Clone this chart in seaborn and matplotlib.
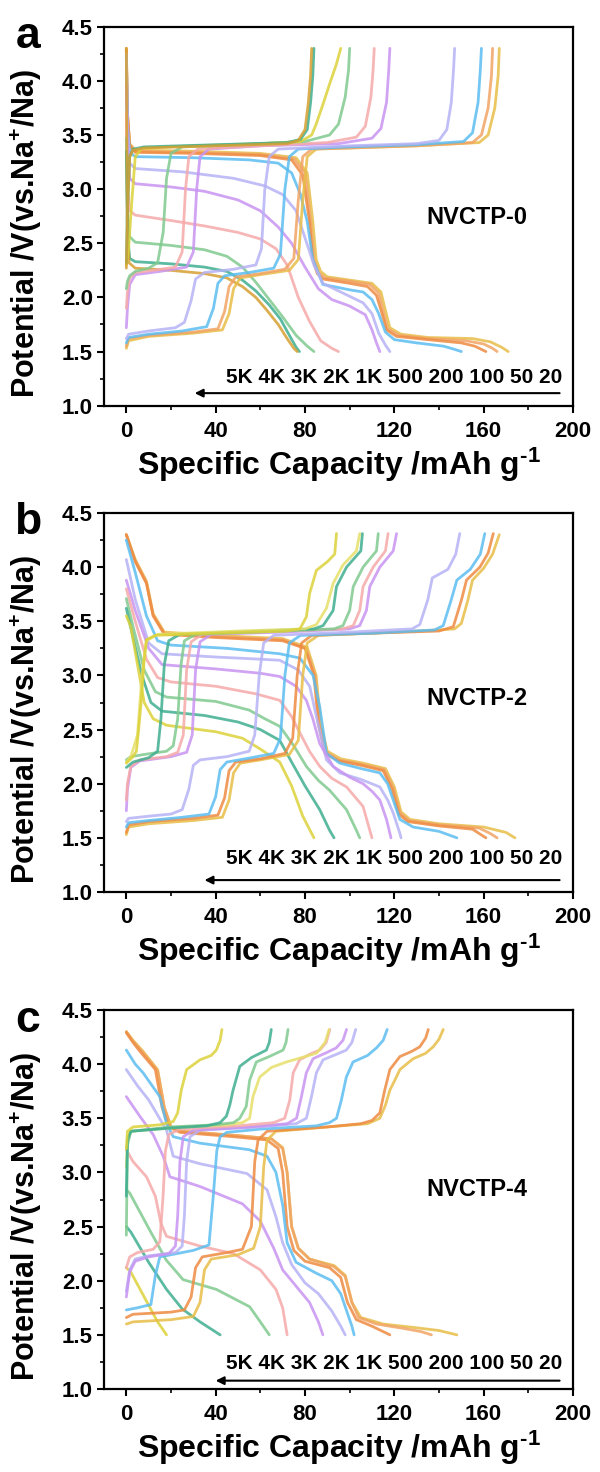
import matplotlib
matplotlib.use("Agg")
import matplotlib.pyplot as plt
import seaborn as sns
import pandas as pd
from matplotlib.ticker import MultipleLocator

# ---------------- data ----------------
RATES = ["20", "50", "100", "200", "500", "1K", "2K", "3K", "4K", "5K"]
RATE_TEXT = "5K 4K 3K 2K 1K 500 200 100 50 20"
SAMPLES = ["NVCTP-0", "NVCTP-2", "NVCTP-4"]
PANEL_LETTERS = ["a", "b", "c"]
X_TICKS = [0, 40, 80, 120, 160, 200]
Y_TICKS = [1.0, 1.5, 2.0, 2.5, 3.0, 3.5, 4.0, 4.5]

# Panel a (NVCTP-0) charge curves
A_CHG_CAP = [
    [0, 1, 10, 30, 43, 46, 48, 51, 60, 73, 77, 79, 81, 85, 100, 130, 158, 162, 165, 166.5, 167],
    [0, 1, 10, 30, 41, 44, 46, 49, 60, 71, 75, 77, 79, 83, 100, 130, 155, 159, 162, 163.5, 164],
    [0, 1, 10, 25, 36, 39, 41, 44, 55, 66, 69, 71, 73, 77, 100, 130, 151, 155, 157.5, 158.5, 159],
    [0, 1, 10, 22, 26, 29, 31, 35, 48, 58, 60.5, 62, 64, 68, 100, 130, 140, 143.5, 145.5, 146.5, 147],
    [0, 0.5, 1.5, 4, 15, 27, 30, 31.5, 33, 37, 60, 95, 110, 114, 116.5, 117.5, 118],
    [0, 0.5, 1.5, 4, 12, 22, 25, 26.5, 28, 32, 60, 90, 103, 107, 109.5, 110.5, 111],
    [0, 0.5, 1.5, 4, 10, 14, 16.5, 18, 20, 25, 50, 80, 91, 95, 98, 99.5, 100],
    [0, 1, 2.5, 4, 7, 30, 60, 78, 83, 85, 88, 91, 94, 96],
    [0, 0.5, 1.5, 3, 8, 40, 72, 78, 81, 82.5, 83.5, 84],
    [0, 0.5, 1.5, 3, 8, 40, 72, 77, 80, 81.5, 82.5, 83],
]
A_CHG_V = [
    [1.53, 1.60, 1.64, 1.67, 1.70, 1.85, 2.08, 2.18, 2.21, 2.25, 2.35, 2.9, 3.3, 3.37, 3.38, 3.40, 3.43, 3.5, 3.75, 4.05, 4.3],
    [1.55, 1.62, 1.65, 1.68, 1.71, 1.87, 2.10, 2.19, 2.22, 2.26, 2.36, 2.9, 3.3, 3.37, 3.38, 3.40, 3.43, 3.5, 3.75, 4.05, 4.3],
    [1.58, 1.63, 1.66, 1.69, 1.73, 1.90, 2.13, 2.20, 2.23, 2.27, 2.40, 3.0, 3.3, 3.37, 3.39, 3.41, 3.44, 3.52, 3.8, 4.1, 4.3],
    [1.62, 1.66, 1.69, 1.72, 1.77, 1.97, 2.17, 2.23, 2.26, 2.30, 2.45, 3.0, 3.3, 3.37, 3.40, 3.42, 3.45, 3.55, 3.8, 4.1, 4.3],
    [1.72, 1.9, 2.12, 2.21, 2.24, 2.28, 2.42, 3.0, 3.3, 3.37, 3.40, 3.42, 3.47, 3.56, 3.8, 4.1, 4.3],
    [1.9, 2.05, 2.18, 2.23, 2.25, 2.28, 2.42, 3.0, 3.3, 3.37, 3.40, 3.43, 3.48, 3.58, 3.85, 4.1, 4.3],
    [2.08, 2.15, 2.2, 2.24, 2.27, 2.32, 2.6, 3.1, 3.33, 3.39, 3.41, 3.44, 3.5, 3.6, 3.85, 4.1, 4.3],
    [2.3, 2.45, 2.9, 3.3, 3.38, 3.40, 3.42, 3.44, 3.5, 3.6, 3.78, 3.97, 4.15, 4.3],
    [2.32, 2.8, 3.3, 3.37, 3.39, 3.41, 3.43, 3.46, 3.55, 3.8, 4.05, 4.3],
    [2.27, 2.8, 3.3, 3.36, 3.38, 3.40, 3.42, 3.45, 3.55, 3.8, 4.05, 4.3],
]
# Panel a discharge curves
A_DIS_CAP = [
    [0, 0.5, 1.5, 4, 30, 60, 76, 81, 83.5, 85, 87, 90, 100, 110, 114, 116, 118, 123, 135, 155, 163, 168, 171],
    [0, 0.5, 1.5, 4, 30, 60, 75, 80, 82.5, 84, 86, 89, 100, 109, 113, 115, 117, 122, 135, 152, 160, 164, 166],
    [0, 0.5, 1.5, 4, 30, 60, 74, 79, 82, 83.5, 85.5, 88, 100, 108, 112, 114.5, 116.5, 121, 135, 150, 156, 159, 161],
    [0, 0.5, 1.5, 4, 30, 55, 68, 74, 78, 81, 83.5, 88, 100, 106, 110, 113, 116, 120, 130, 142, 147, 150],
    [0, 0.5, 1.5, 4, 25, 48, 62, 70, 76, 80, 84, 88, 98, 106, 110, 113, 116, 118],
    [0, 0.5, 1.5, 4, 20, 35, 50, 60, 68, 74, 80, 86, 92, 100, 107, 110, 112, 113.5],
    [0, 0.5, 1.5, 4, 20, 35, 50, 60, 67, 72, 77, 82, 87, 92, 95],
    [0, 0.5, 1.5, 4, 20, 35, 45, 52, 58, 64, 70, 76, 81, 84],
    [0, 0.5, 1.5, 4, 20, 35, 45, 52, 58, 64, 69, 73, 76, 77.5],
    [0, 0.4, 1.2, 4, 20, 35, 45, 52, 58, 63, 68, 72, 75, 76.5],
]
A_DIS_V = [
    [4.3, 3.7, 3.42, 3.36, 3.35, 3.33, 3.29, 3.15, 2.7, 2.35, 2.24, 2.19, 2.16, 2.13, 2.05, 1.88, 1.72, 1.66, 1.63, 1.62, 1.59, 1.54, 1.5],
    [4.3, 3.7, 3.41, 3.35, 3.34, 3.32, 3.28, 3.15, 2.7, 2.35, 2.23, 2.18, 2.15, 2.12, 2.04, 1.87, 1.71, 1.65, 1.62, 1.60, 1.57, 1.53, 1.5],
    [4.28, 3.7, 3.40, 3.34, 3.33, 3.31, 3.27, 3.13, 2.7, 2.35, 2.22, 2.17, 2.13, 2.10, 2.02, 1.85, 1.70, 1.64, 1.61, 1.58, 1.55, 1.52, 1.5],
    [4.22, 3.6, 3.34, 3.30, 3.29, 3.27, 3.24, 3.15, 2.95, 2.7, 2.35, 2.12, 2.07, 2.05, 1.98, 1.85, 1.68, 1.61, 1.58, 1.55, 1.52, 1.5],
    [4.25, 3.6, 3.24, 3.19, 3.16, 3.10, 3.03, 2.95, 2.8, 2.55, 2.3, 2.13, 2.03, 1.95, 1.85, 1.67, 1.56, 1.5],
    [3.95, 3.4, 3.10, 3.05, 3.02, 2.98, 2.90, 2.80, 2.65, 2.5, 2.28, 2.08, 1.98, 1.92, 1.84, 1.70, 1.58, 1.5],
    [3.7, 3.0, 2.80, 2.76, 2.71, 2.66, 2.60, 2.54, 2.45, 2.3, 2.0, 1.78, 1.6, 1.53, 1.5],
    [3.47, 2.8, 2.56, 2.51, 2.48, 2.44, 2.38, 2.28, 2.14, 1.98, 1.82, 1.65, 1.55, 1.5],
    [3.35, 2.6, 2.36, 2.33, 2.31, 2.28, 2.24, 2.16, 2.06, 1.93, 1.80, 1.65, 1.54, 1.5],
    [4.3, 2.7, 2.32, 2.27, 2.25, 2.22, 2.18, 2.10, 2.00, 1.88, 1.75, 1.62, 1.53, 1.5],
]

# Panel b (NVCTP-2) charge curves
B_CHG_CAP = [
    [0, 1, 10, 30, 43, 46, 48, 51, 60, 73, 77, 79, 81, 86, 110, 140, 147, 150, 153, 155, 160, 164, 167],
    [0, 1, 10, 30, 41, 44, 46, 49, 60, 71, 74.5, 76.5, 78.5, 83, 110, 140, 146.4, 150.1, 152.3, 158.3, 162, 164.3],
    [0, 1, 10, 25, 37, 40, 42, 45, 56, 66, 69, 71, 73, 78, 110, 138, 141.9, 145.5, 148, 154, 158.5, 160.5],
    [0, 1, 10, 20, 25, 28, 30, 33, 45, 55, 57.5, 59.5, 61.5, 66, 100, 128, 131.4, 135, 137, 144, 147.5, 149.3],
    [0, 0.5, 2, 6, 20, 27, 29.5, 31, 33, 38, 70, 100, 104.5, 107.5, 109, 113.5, 119.5, 121],
    [0, 0.5, 2, 6, 18, 23, 25.5, 27, 29, 34, 70, 97, 101.6, 104.5, 106, 110.5, 116, 117.2],
    [0, 2, 8, 18, 21, 23, 24.5, 26, 31, 70, 93, 97, 100, 101.6, 106, 112, 112.8],
    [0, 3, 10, 14, 15.5, 17, 19, 24, 60, 84, 88.1, 92.6, 94.1, 98.6, 105, 105.7],
    [0, 2, 5, 7, 9, 14, 50, 80, 85.1, 89.6, 92.6, 97, 103, 104.5],
    [0, 3, 4.5, 5.5, 6.7, 8, 9, 13, 40, 72, 77.7, 80.6, 82.1, 85.1, 90, 93.3, 94.1],
]
B_CHG_V = [
    [1.53, 1.60, 1.63, 1.66, 1.69, 1.85, 2.10, 2.19, 2.22, 2.27, 2.40, 3.0, 3.3, 3.37, 3.39, 3.42, 3.43, 3.48, 3.7, 3.88, 3.99, 4.12, 4.3],
    [1.55, 1.62, 1.65, 1.68, 1.71, 1.87, 2.12, 2.20, 2.23, 2.28, 2.42, 3.0, 3.3, 3.37, 3.39, 3.41, 3.45, 3.7, 3.88, 4.0, 4.13, 4.31],
    [1.60, 1.64, 1.66, 1.69, 1.72, 1.88, 2.13, 2.20, 2.24, 2.28, 2.42, 3.0, 3.3, 3.37, 3.39, 3.42, 3.46, 3.7, 3.88, 3.98, 4.12, 4.31],
    [1.65, 1.68, 1.70, 1.72, 1.76, 1.95, 2.17, 2.22, 2.25, 2.30, 2.45, 3.0, 3.3, 3.37, 3.40, 3.43, 3.47, 3.7, 3.9, 3.98, 4.12, 4.31],
    [1.75, 1.95, 2.15, 2.21, 2.25, 2.29, 2.45, 3.05, 3.31, 3.38, 3.40, 3.43, 3.46, 3.6, 3.82, 4.0, 4.15, 4.31],
    [1.85, 2.0, 2.16, 2.22, 2.25, 2.29, 2.45, 3.05, 3.31, 3.38, 3.41, 3.43, 3.46, 3.6, 3.82, 4.0, 4.15, 4.31],
    [2.22, 2.25, 2.27, 2.30, 2.35, 2.6, 3.1, 3.32, 3.38, 3.41, 3.43, 3.46, 3.6, 3.82, 4.0, 4.15, 4.31],
    [2.15, 2.2, 2.24, 2.3, 2.6, 3.1, 3.32, 3.38, 3.41, 3.43, 3.46, 3.6, 3.82, 4.0, 4.15, 4.31],
    [2.2, 2.25, 2.45, 3.0, 3.32, 3.38, 3.41, 3.43, 3.47, 3.62, 3.85, 4.02, 4.15, 4.31],
    [2.19, 2.25, 2.30, 2.5, 2.77, 3.15, 3.33, 3.37, 3.39, 3.41, 3.43, 3.54, 3.76, 3.97, 4.05, 4.12, 4.31],
]
# Panel b discharge curves
B_DIS_CAP = [
    [0, 4, 9, 12, 17, 40, 70, 81, 85, 87, 90, 96, 106, 116, 120, 123, 127, 140, 160, 170, 174],
    [0, 4, 9, 12, 17, 40, 70, 80.5, 84.5, 86.5, 89.5, 95, 105, 115.5, 119.5, 122.5, 126.5, 140, 158, 163, 166],
    [0, 4, 9, 12, 17, 40, 70, 80, 84, 86, 89, 95, 105, 115, 119, 122, 126, 140, 155, 161],
    [0, 4, 9, 14, 20, 45, 68.7, 77.7, 83.6, 86.6, 89.6, 95.6, 105, 113.5, 117, 119.5, 122.5, 128.4, 140, 148],
    [0, 4, 10, 16, 40, 60, 68.7, 77, 82.1, 85.1, 89.6, 95.6, 105, 113.5, 117, 119.5, 122.5, 123],
    [0, 4, 10, 16, 40, 60, 68.7, 76, 80.6, 83.5, 86.6, 92.6, 100, 106, 110, 113.5, 116.5, 118.5],
    [0, 4, 9, 14, 20, 40, 58, 68.7, 74, 77.7, 82, 86.6, 92, 98.6, 106, 109, 110],
    [0, 3, 8, 13, 18, 40, 55, 62, 68.7, 75, 80.6, 86, 91, 98.6, 103, 104.5],
    [0, 3, 7, 11, 16, 35, 50, 60, 68.7, 74, 80, 86.6, 91, 93],
    [0, 2, 5, 8, 12, 18, 40, 52, 60, 68.7, 74, 79, 84],
]
B_DIS_V = [
    [4.3, 4.07, 3.87, 3.57, 3.40, 3.37, 3.34, 3.26, 3.0, 2.55, 2.30, 2.23, 2.19, 2.14, 1.97, 1.74, 1.67, 1.63, 1.60, 1.55, 1.5],
    [4.3, 4.06, 3.86, 3.56, 3.39, 3.36, 3.33, 3.25, 3.0, 2.55, 2.29, 2.22, 2.18, 2.13, 1.96, 1.73, 1.66, 1.62, 1.59, 1.54, 1.5],
    [4.3, 4.05, 3.85, 3.55, 3.38, 3.35, 3.32, 3.25, 3.0, 2.55, 2.28, 2.21, 2.17, 2.12, 1.95, 1.72, 1.65, 1.61, 1.58, 1.5],
    [4.25, 3.95, 3.55, 3.32, 3.28, 3.25, 3.20, 3.16, 3.0, 2.71, 2.28, 2.19, 2.14, 2.10, 2.0, 1.85, 1.67, 1.60, 1.56, 1.5],
    [4.07, 3.7, 3.3, 3.2, 3.17, 3.15, 3.14, 3.05, 2.9, 2.62, 2.22, 2.10, 2.04, 1.97, 1.85, 1.73, 1.54, 1.5],
    [3.88, 3.6, 3.25, 3.1, 3.06, 3.02, 2.99, 2.9, 2.77, 2.6, 2.37, 2.16, 2.06, 2.0, 1.93, 1.85, 1.67, 1.5],
    [3.8, 3.5, 3.15, 2.98, 2.94, 2.90, 2.83, 2.77, 2.62, 2.47, 2.30, 2.16, 2.05, 1.97, 1.79, 1.57, 1.5],
    [3.71, 3.45, 3.05, 2.85, 2.80, 2.76, 2.68, 2.60, 2.53, 2.35, 2.16, 2.03, 1.94, 1.76, 1.57, 1.5],
    [3.62, 3.35, 3.0, 2.75, 2.67, 2.63, 2.57, 2.50, 2.40, 2.2, 1.98, 1.76, 1.57, 1.5],
    [3.55, 3.45, 3.1, 2.75, 2.6, 2.54, 2.48, 2.42, 2.32, 2.2, 1.98, 1.7, 1.5],
]

# Panel c (NVCTP-4) charge curves
C_CHG_CAP = [
    [0, 3, 20, 30, 33, 35, 38, 50, 57, 60, 61.5, 63, 67, 90, 108, 113.5, 116, 118, 120.2, 122.5, 128.4, 134, 137.4, 140, 141.9],
    [0, 3, 20, 26, 29, 31, 34, 45, 52, 56, 57.5, 59, 63, 90, 105, 110, 113.5, 115.7, 118, 122.5, 128, 131.4, 134, 135.2],
    [0, 5, 11, 13, 15, 30, 37, 39, 40.5, 42, 45, 60, 85, 91, 94.1, 96.3, 98.5, 101.5, 108, 112, 115, 116.8],
    [0, 1.5, 4, 10, 22, 25, 26, 27, 28.5, 33, 60, 76, 80.6, 82.9, 85.1, 88.1, 94, 98.5, 101, 102.7],
    [0, 1.5, 4, 10, 19, 22, 23, 24, 25.5, 30, 55, 72, 76.2, 78.4, 80.6, 83.6, 90, 94, 97, 98.6],
    [0, 1.5, 5, 12, 15, 16.5, 17.5, 19, 24, 50, 66, 70.9, 73.2, 74.7, 77.6, 83, 86.6, 89.5, 91.1],
    [0, 0.6, 2, 25, 45, 52, 55.2, 56.7, 59.7, 65, 71.7, 80, 85.1, 89, 90.8],
    [0, 0.5, 2, 20, 40, 48, 50.8, 53.7, 55.2, 58.2, 64, 70.2, 71.5, 72.4],
    [0, 0.5, 2, 20, 36, 42, 44.8, 46.3, 47.8, 50.8, 56, 62.7, 64, 64.9],
    [0, 0.5, 3, 15, 21, 23, 24.6, 27, 33, 38, 40.3, 42, 42.8],
]
C_CHG_V = [
    [1.60, 1.62, 1.64, 1.67, 1.80, 2.10, 2.20, 2.24, 2.30, 2.50, 3.05, 3.30, 3.38, 3.42, 3.45, 3.50, 3.62, 3.76, 3.85, 3.95, 4.05, 4.10, 4.16, 4.23, 4.32],
    [1.66, 1.69, 1.71, 1.73, 1.85, 2.12, 2.22, 2.26, 2.29, 2.50, 3.10, 3.30, 3.38, 3.42, 3.45, 3.48, 3.55, 3.76, 3.95, 4.07, 4.12, 4.16, 4.24, 4.32],
    [1.73, 1.75, 1.78, 2.05, 2.22, 2.28, 2.33, 2.80, 3.20, 3.33, 3.37, 3.40, 3.43, 3.46, 3.50, 3.67, 3.88, 4.02, 4.08, 4.15, 4.22, 4.32],
    [1.90, 2.10, 2.20, 2.23, 2.26, 2.32, 2.60, 3.10, 3.33, 3.39, 3.42, 3.45, 3.50, 3.70, 3.92, 4.04, 4.09, 4.13, 4.20, 4.32],
    [1.85, 2.08, 2.18, 2.22, 2.25, 2.32, 2.60, 3.10, 3.33, 3.39, 3.42, 3.45, 3.50, 3.70, 3.92, 4.05, 4.11, 4.15, 4.22, 4.32],
    [2.12, 2.22, 2.26, 2.29, 2.36, 2.80, 3.20, 3.35, 3.40, 3.43, 3.46, 3.50, 3.67, 3.92, 4.04, 4.10, 4.13, 4.20, 4.32],
    [3.05, 3.30, 3.38, 3.42, 3.44, 3.46, 3.50, 3.70, 3.88, 3.97, 4.02, 4.07, 4.10, 4.20, 4.32],
    [2.42, 3.25, 3.38, 3.42, 3.44, 3.46, 3.50, 3.61, 3.85, 4.02, 4.07, 4.13, 4.20, 4.32],
    [2.78, 3.30, 3.38, 3.41, 3.43, 3.46, 3.52, 3.62, 3.76, 3.98, 4.06, 4.13, 4.20, 4.32],
    [3.22, 3.38, 3.42, 3.44, 3.47, 3.55, 3.76, 3.95, 4.04, 4.08, 4.13, 4.22, 4.32],
]
# Panel c discharge curves
C_DIS_CAP = [
    [0, 3, 7, 14, 17, 20, 25, 50, 65, 70, 72, 74, 77, 82, 93, 98, 101, 105, 115, 128, 140, 148],
    [0, 3, 7, 14, 17, 20, 25, 50, 65, 70, 72, 74, 77, 82, 93, 98, 101, 104, 112, 124, 132, 136.6],
    [0, 3, 6, 13, 16, 19, 24, 48, 63, 68, 70, 72, 75, 80, 91, 96, 99, 103, 110, 118],
    [0, 4, 7.5, 15, 18, 21, 33, 55, 63, 67, 70, 72, 76, 85, 92, 96, 99, 101, 102],
    [0, 5, 10, 18, 21, 33, 54, 63, 67, 70, 74, 80, 86, 92, 96, 98],
    [0, 6, 12, 16.5, 19.5, 33, 52, 60, 66, 70, 76, 82, 86, 88],
    [0, 3, 9, 13, 15.5, 18, 33, 48, 60, 67, 70, 72],
    [0, 1.5, 10.4, 17.9, 25.4, 40.3, 55.2, 60, 64],
    [0, 2, 10, 18, 25, 33, 42],
    [0, 2, 8, 14, 18],
]
C_DIS_V = [
    [4.30, 4.22, 4.13, 3.95, 3.60, 3.42, 3.38, 3.34, 3.31, 3.23, 3.0, 2.5, 2.3, 2.2, 2.14, 2.05, 1.8, 1.66, 1.60, 1.57, 1.54, 1.5],
    [4.30, 4.21, 4.12, 3.94, 3.60, 3.42, 3.38, 3.34, 3.31, 3.22, 3.0, 2.5, 2.3, 2.2, 2.13, 2.04, 1.8, 1.66, 1.60, 1.56, 1.53, 1.5],
    [4.29, 4.20, 4.12, 3.95, 3.60, 3.42, 3.37, 3.33, 3.30, 3.22, 3.0, 2.5, 2.28, 2.18, 2.12, 2.03, 1.8, 1.64, 1.58, 1.5],
    [4.13, 4.00, 3.92, 3.70, 3.45, 3.33, 3.27, 3.21, 3.15, 3.0, 2.7, 2.35, 2.17, 2.07, 2.0, 1.88, 1.7, 1.58, 1.5],
    [3.95, 3.80, 3.67, 3.39, 3.15, 3.08, 2.99, 2.84, 2.59, 2.35, 2.15, 1.98, 1.88, 1.72, 1.58, 1.5],
    [3.70, 3.52, 3.35, 3.15, 2.96, 2.87, 2.71, 2.55, 2.30, 2.10, 1.95, 1.80, 1.62, 1.5],
    [3.21, 3.10, 2.96, 2.78, 2.53, 2.41, 2.32, 2.25, 2.10, 1.92, 1.75, 1.5],
    [2.84, 2.81, 2.47, 2.19, 2.01, 1.92, 1.76, 1.62, 1.5],
    [2.50, 2.45, 2.17, 1.92, 1.74, 1.62, 1.5],
    [2.12, 2.08, 1.85, 1.62, 1.5],
]

# ---------------- style ----------------
GOLD = "#E8BE48"
ORG50 = "#F2A465"
ORG100 = "#EE8B42"
BLUE = "#5CBDF0"
LAV = "#B6B2F5"
VIO = "#C894F2"
PINK = "#F6A9A9"
GRN = "#80CA8F"
TEAL = "#3FAE90"
YEL = "#DCD23A"
LYEL = "#E6E06A"
DGOLD = "#D6A032"

A_CHG_COL = [GOLD, ORG50, BLUE, LAV, VIO, PINK, GRN, YEL, TEAL, DGOLD]
A_DIS_COL = [GOLD, ORG50, ORG100, BLUE, LAV, VIO, PINK, GRN, TEAL, DGOLD]
B_CHG_COL = [GOLD, ORG100, BLUE, LAV, VIO, PINK, GRN, TEAL, LYEL, YEL]
B_DIS_COL = [GOLD, ORG50, ORG100, BLUE, LAV, VIO, PINK, GRN, TEAL, YEL]
C_CHG_COL = [GOLD, ORG100, BLUE, LAV, VIO, PINK, LYEL, GRN, TEAL, YEL]
C_DIS_COL = [GOLD, ORG50, ORG100, BLUE, LAV, VIO, PINK, GRN, TEAL, YEL]

sns.set_style("ticks")
plt.rcParams["font.family"] = ["Liberation Sans", "DejaVu Sans"]
plt.rcParams["font.weight"] = "bold"
plt.rcParams["axes.labelweight"] = "bold"
plt.rcParams["text.color"] = "black"
plt.rcParams["axes.labelcolor"] = "black"
plt.rcParams["xtick.color"] = "black"
plt.rcParams["ytick.color"] = "black"
plt.rcParams["mathtext.fontset"] = "custom"
plt.rcParams["mathtext.rm"] = "Liberation Sans:bold"
plt.rcParams["mathtext.bf"] = "Liberation Sans:bold"
plt.rcParams["mathtext.default"] = "bf"

fig = plt.figure(figsize=(6, 14.72), dpi=100)
H = 1472.0
LEFT, WIDTH = 104 / 600, 469 / 600
tops = [26.7, 513, 1010]
rate_text_v = [1.256, 1.31, 1.24]
arrow_v = [1.116, 1.11, 1.077]
arrow_left = [30.6, 35, 40]
label_v = [2.74, 2.79, 2.84]

panels = [
    (A_CHG_CAP, A_CHG_V, A_CHG_COL, A_DIS_CAP, A_DIS_V, A_DIS_COL),
    (B_CHG_CAP, B_CHG_V, B_CHG_COL, B_DIS_CAP, B_DIS_V, B_DIS_COL),
    (C_CHG_CAP, C_CHG_V, C_CHG_COL, C_DIS_CAP, C_DIS_V, C_DIS_COL),
]

for p, (cc, cv, ccol, dc, dv, dcol) in enumerate(panels):
    top = tops[p]
    ax = fig.add_axes([LEFT, 1 - (top + 379) / H, WIDTH, 379 / H])
    rows = []
    pal = {}
    for kind, caps, vs, cols in (("dis", dc, dv, dcol), ("chg", cc, cv, ccol)):
        for i in range(len(caps)):
            key = f"{kind}-{RATES[i]}"
            pal[key] = cols[i]
            for x, y in zip(caps[i], vs[i]):
                rows.append({"cap": x, "V": y, "curve": key})
    df = pd.DataFrame(rows)
    sns.lineplot(data=df, x="cap", y="V", hue="curve", palette=pal,
                 sort=False, estimator=None, legend=False, ax=ax,
                 linewidth=2.0, alpha=0.85, solid_joinstyle="round",
                 solid_capstyle="round")
    ax.set_xlim(-10, 200)
    ax.set_ylim(1.0, 4.5)
    ax.set_xticks(X_TICKS)
    ax.set_yticks(Y_TICKS)
    ax.set_yticklabels([f"{v:.1f}" for v in Y_TICKS])
    ax.xaxis.set_minor_locator(MultipleLocator(20))
    ax.yaxis.set_minor_locator(MultipleLocator(0.25))
    ax.tick_params(axis="both", which="major", direction="out", length=5,
                   width=1.5, labelsize=16, colors="black")
    ax.tick_params(axis="both", which="minor", direction="out", length=3,
                   width=1.2, colors="black")
    ax.tick_params(axis="x", which="major", pad=6)
    ax.tick_params(axis="y", which="major", pad=3)
    for t in ax.get_xticklabels() + ax.get_yticklabels():
        t.set_fontweight("bold")
    for s in ax.spines.values():
        s.set_visible(True)
        s.set_linewidth(1.6)
        s.set_color("black")
    ax.set_xlabel(r"Specific Capacity /mAh g$^{\text{-1}}$", fontsize=23,
                  fontweight="bold", color="black")
    ax.set_ylabel(r"Potential /V(vs.Na$^{+}$/Na)", fontsize=22,
                  fontweight="bold", color="black")
    ax.xaxis.set_label_coords(0.5, -0.105)
    ax.yaxis.set_label_coords(-0.128, 0.455)
    ax.text(157, label_v[p], SAMPLES[p], fontsize=17, fontweight="bold",
            ha="center", va="center", color="black")
    ax.text(195, rate_text_v[p], RATE_TEXT, fontsize=15, fontweight="bold",
            ha="right", va="center", color="black")
    ax.annotate("", xy=(arrow_left[p], arrow_v[p]), xytext=(194, arrow_v[p]),
                arrowprops=dict(arrowstyle="-|>", lw=1.5, color="black",
                                mutation_scale=12, shrinkA=0, shrinkB=0))
    fig.text(28 / 600, 1 - (top + 10) / H, PANEL_LETTERS[p], fontsize=32,
             fontweight="bold", ha="center", va="center", color="black")

fig.savefig("out.png", dpi=100)
